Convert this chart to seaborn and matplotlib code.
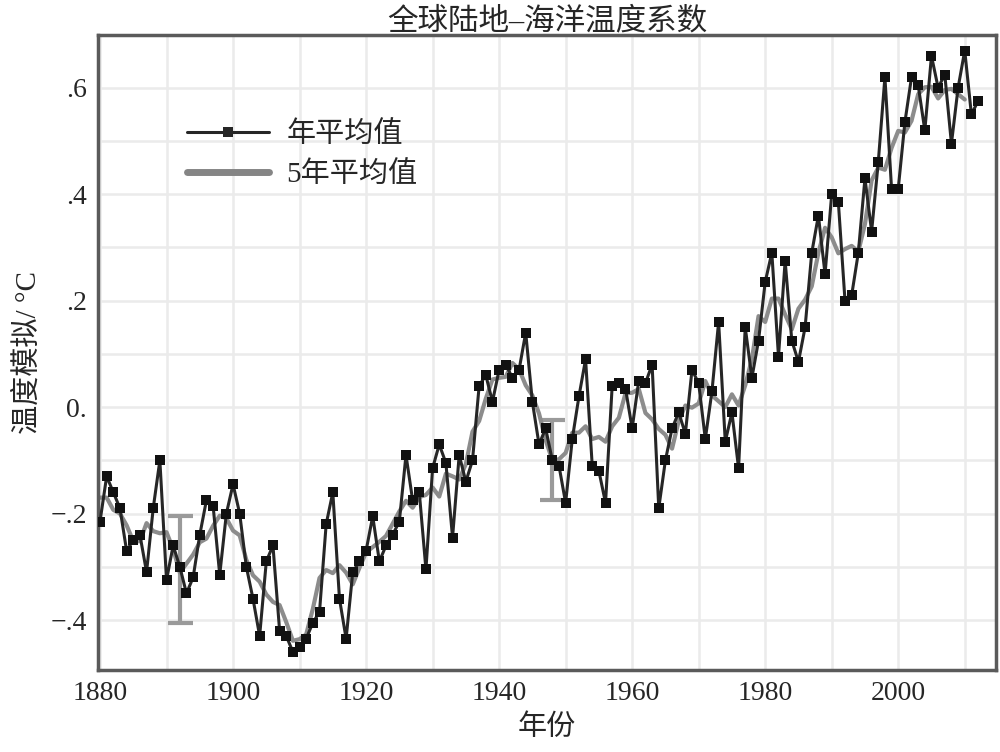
import numpy as np
import pandas as pd
import matplotlib
matplotlib.use("Agg")
import matplotlib.pyplot as plt
from matplotlib.ticker import MultipleLocator
import seaborn as sns

# 年平均值 (1880-2012)
years = list(range(1880, 2013))
annual = [
    -0.215, -0.13, -0.16, -0.19, -0.27, -0.25, -0.24, -0.31, -0.19, -0.10,
    -0.325, -0.26, -0.30, -0.35, -0.32, -0.24, -0.175, -0.185, -0.315, -0.20,
    -0.145, -0.20, -0.30, -0.36, -0.43, -0.29, -0.26, -0.42, -0.43, -0.46,
    -0.45, -0.435, -0.405, -0.385, -0.22, -0.16, -0.36, -0.435, -0.31, -0.29,
    -0.27, -0.205, -0.29, -0.26, -0.24, -0.215, -0.09, -0.175, -0.16, -0.305,
    -0.115, -0.07, -0.105, -0.245, -0.09, -0.14, -0.10, 0.04, 0.06, 0.01,
    0.07, 0.08, 0.055, 0.07, 0.14, 0.01, -0.07, -0.04, -0.10, -0.11,
    -0.18, -0.06, 0.02, 0.09, -0.11, -0.12, -0.18, 0.04, 0.045, 0.035,
    -0.04, 0.05, 0.045, 0.08, -0.19, -0.10, -0.04, -0.01, -0.05, 0.07,
    0.045, -0.06, 0.03, 0.16, -0.065, -0.01, -0.115, 0.15, 0.055, 0.125,
    0.235, 0.29, 0.095, 0.275, 0.125, 0.085, 0.15, 0.29, 0.36, 0.25,
    0.40, 0.385, 0.20, 0.21, 0.29, 0.43, 0.33, 0.46, 0.62, 0.41,
    0.41, 0.535, 0.62, 0.605, 0.52, 0.66, 0.60, 0.625, 0.495, 0.60,
    0.67, 0.55, 0.575,
]

# 5年平均值 (1880-2010)
years_5 = list(range(1880, 2011))
mean_5 = [
    -0.17, -0.17, -0.193, -0.20, -0.222, -0.252, -0.252, -0.218, -0.233, -0.237,
    -0.235, -0.267, -0.311, -0.294, -0.277, -0.254, -0.247, -0.223, -0.204, -0.209,
    -0.232, -0.241, -0.287, -0.316, -0.328, -0.352, -0.366, -0.372, -0.404, -0.439,
    -0.436, -0.427, -0.379, -0.321, -0.306, -0.312, -0.297, -0.311, -0.333, -0.302,
    -0.273, -0.263, -0.253, -0.242, -0.219, -0.196, -0.176, -0.189, -0.169, -0.165,
    -0.151, -0.168, -0.125, -0.13, -0.136, -0.107, -0.046, -0.026, 0.016, 0.052,
    0.055, 0.057, 0.083, 0.071, 0.041, 0.022, -0.012, -0.062, -0.10, -0.098,
    -0.086, -0.048, -0.048, -0.036, -0.06, -0.056, -0.065, -0.036, -0.02, 0.026,
    0.027, 0.034, -0.011, -0.023, -0.041, -0.052, -0.078, -0.026, 0.003, -0.001,
    0.007, 0.049, 0.022, 0.011, 0.0, 0.024, 0.003, 0.041, 0.09, 0.171,
    0.16, 0.204, 0.204, 0.174, 0.146, 0.185, 0.202, 0.227, 0.29, 0.337,
    0.319, 0.289, 0.297, 0.303, 0.292, 0.344, 0.426, 0.45, 0.446, 0.487,
    0.519, 0.516, 0.538, 0.588, 0.601, 0.602, 0.58, 0.596, 0.598, 0.588,
    0.578,
]

# 不确定性范围
err_years = [1892, 1948]
err_center = [-0.305, -0.10]
err_half = [0.10, 0.075]

y_ticks = [-0.4, -0.2, 0.0, 0.2, 0.4, 0.6]
y_labels = ["\u2212.4", "\u2212.2", "0.", ".2", ".4", ".6"]
x_ticks = [1880, 1900, 1920, 1940, 1960, 1980, 2000]

sns.set_style("whitegrid")
plt.rcParams["font.family"] = ["Liberation Serif", "Noto Sans CJK SC"]
plt.rcParams["axes.unicode_minus"] = False

fig = plt.figure(figsize=(10, 7.52), dpi=100)
ax = fig.add_axes([0.098, 0.109, 0.898, 0.845])

df_a = pd.DataFrame({"年份": years, "值": annual})
df_5 = pd.DataFrame({"年份": years_5, "值": mean_5})

sns.lineplot(data=df_5, x="年份", y="值", ax=ax, color="#8c8c8c",
             linewidth=3, legend=False, zorder=2)
sns.lineplot(data=df_a, x="年份", y="值", ax=ax, color="#262626",
             linewidth=2.2, marker="s", markersize=7.5, markeredgewidth=0,
             markerfacecolor="#111111", legend=False, zorder=3)
ax.errorbar(err_years, err_center, yerr=err_half, fmt="none",
            ecolor="#9a9a9a", elinewidth=3, capsize=9, capthick=3, zorder=1.5)

ax.set_xlim(1879.7, 2014.7)
ax.set_ylim(-0.494, 0.70)
ax.set_xticks(x_ticks)
ax.xaxis.set_minor_locator(MultipleLocator(10))
ax.set_yticks(y_ticks)
ax.set_yticklabels(y_labels)
ax.yaxis.set_minor_locator(MultipleLocator(0.1))
ax.grid(True, which="both", color="#ebebeb", linewidth=1.8)
ax.set_axisbelow(True)
ax.tick_params(axis="both", which="both", length=0, labelsize=20, pad=8)
for s in ax.spines.values():
    s.set_visible(True)
    s.set_color("#5a5a5a")
    s.set_linewidth(2.5)

ax.set_title("全球陆地–海洋温度系数", fontsize=22, pad=4)
ax.set_xlabel("年份", fontsize=21, labelpad=6)
ax.set_ylabel("温度模拟/ °C", fontsize=21, labelpad=6)

h_a = plt.Line2D([], [], color="#262626", linewidth=2.2, marker="s",
                 markersize=7.5, markeredgewidth=0, markevery=[1])
h_5 = plt.Line2D([], [], color="#858585", linewidth=5)
ax.legend([h_a, h_5], ["年平均值", "5年平均值"], loc="upper left",
          bbox_to_anchor=(0.07, 0.905), frameon=False, fontsize=21,
          handlelength=2.8, handletextpad=0.6, labelspacing=0.45)

fig.savefig("out.png", dpi=100)
